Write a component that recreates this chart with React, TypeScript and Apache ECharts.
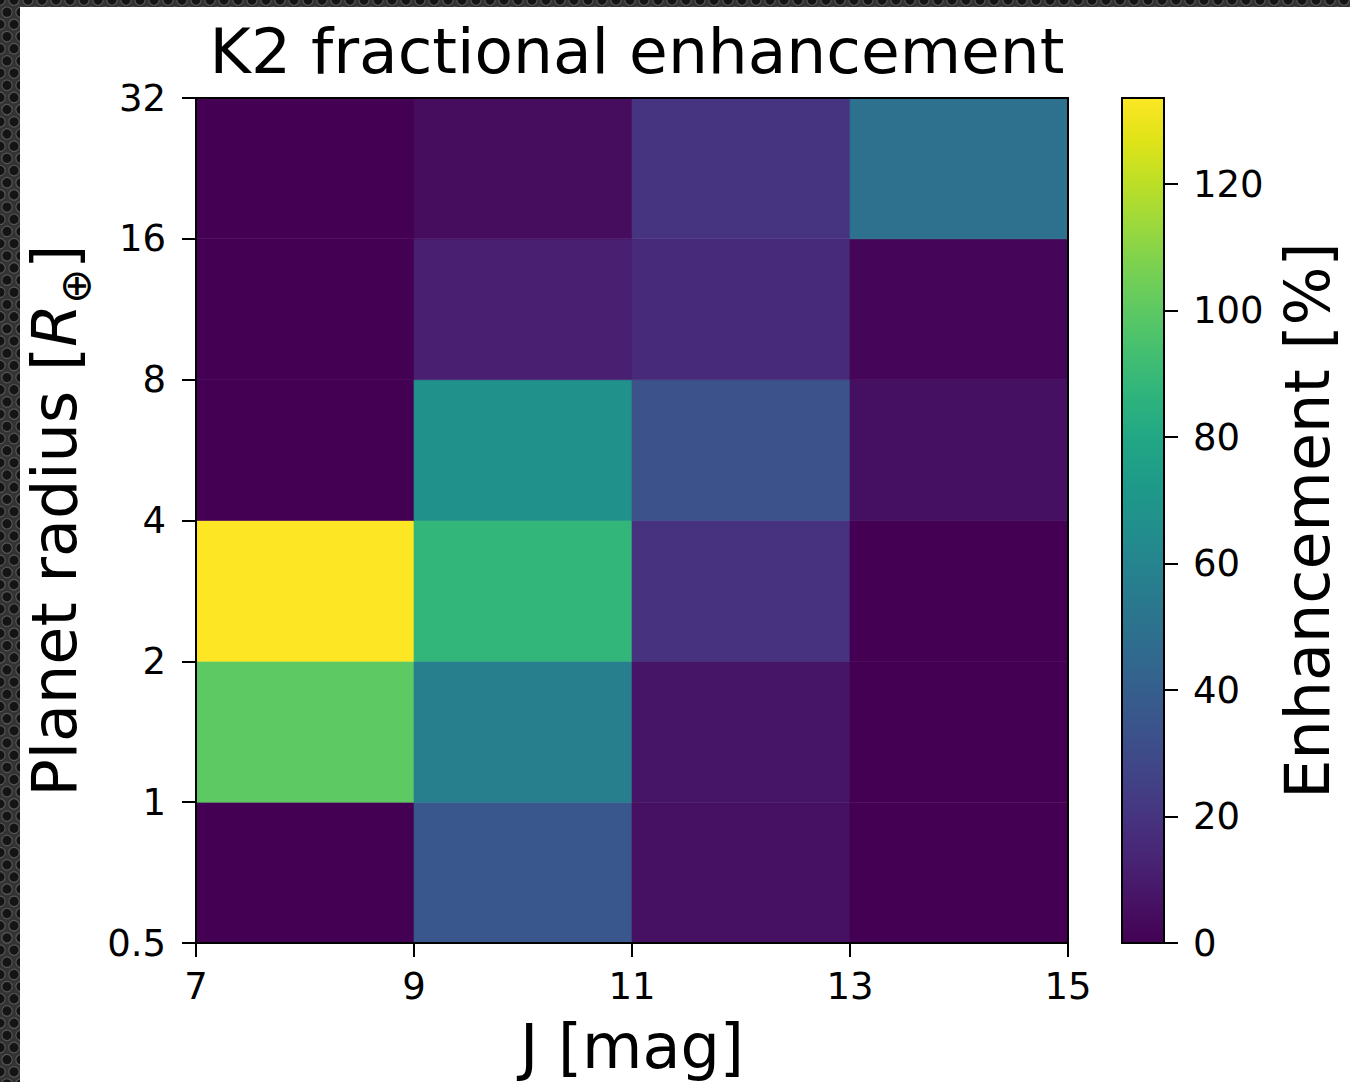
import React, { useEffect, useRef } from "react";
import * as echarts from "echarts";

// ---- data ----
const jEdges = [7, 9, 11, 13, 15];
const radiusEdges = [0.5, 1, 2, 4, 8, 16, 32];
// enhancement [%] per radius bin (bottom to top), columns are J bins 7-9, 9-11, 11-13, 13-15
const enhR0p5to1 = [0, 36, 6, 0];
const enhR1to2 = [100, 57.5, 7.5, 0];
const enhR2to4 = [133.6, 88, 19, 0];
const enhR4to8 = [0, 67, 33.5, 5.5];
const enhR8to16 = [0, 11.5, 16, 2];
const enhR16to32 = [0, 4, 20, 49.5];
const enhancementRows = [enhR0p5to1, enhR1to2, enhR2to4, enhR4to8, enhR8to16, enhR16to32];

const xTicks = [7, 9, 11, 13, 15];
const yTickLabels = ["0.5", "1", "2", "4", "8", "16", "32"];
const colorbarTicks = [0, 20, 40, 60, 80, 100, 120];
const colorMax = 133.6;

const viridis = [
  "#440154", "#471365", "#482475", "#463480", "#414487", "#3b528b", "#355f8d",
  "#2f6c8e", "#2a788e", "#25848e", "#21918c", "#1e9c89", "#22a884", "#2fb47c",
  "#44bf70", "#5ec962", "#7ad151", "#9bd93c", "#bddf26", "#dfe318", "#fde725",
];

const FONT = "DejaVu Sans";

export default function App() {
  const ref = useRef<HTMLDivElement>(null);

  useEffect(() => {
    if (!ref.current) return;
    const chart = echarts.init(ref.current, undefined, { renderer: "svg" });

    const cells: number[][] = [];
    enhancementRows.forEach((row, r) => {
      row.forEach((v, c) => {
        cells.push([
          jEdges[c],
          jEdges[c + 1],
          Math.log2(radiusEdges[r]),
          Math.log2(radiusEdges[r + 1]),
          v,
        ]);
      });
    });

    // decorative perforated background
    const bg: any[] = [];
    const sp = 14;
    for (let row = 0; row * (sp * 0.87) < 1100; row++) {
      const y = row * sp * 0.87;
      const off = row % 2 ? sp / 2 : 0;
      for (let x = off; x < 1360; x += sp) {
        if (x > 30 && y > 16) continue;
        bg.push({
          type: "circle",
          shape: { cx: x, cy: y, r: 5.2 },
          style: { fill: "#141414", stroke: "#555", lineWidth: 1.2 },
          silent: true,
          z: -20,
        });
      }
    }

    const stops = viridis.map((c, i) => ({ offset: i / (viridis.length - 1), color: c }));

    const axisBlack = { lineStyle: { color: "#000", width: 2 } };

    const option: any = {
      animation: false,
      backgroundColor: "#333333",
      textStyle: { fontFamily: FONT },
      title: {
        text: "K2 fractional enhancement",
        left: 632,
        top: 15,
        textAlign: "center",
        textStyle: { fontFamily: FONT, fontSize: 63, fontWeight: "normal", color: "#000" },
      },
      graphic: [
        ...bg,
        {
          type: "rect",
          shape: { x: 20, y: 7, width: 1340, height: 1080 },
          style: { fill: "#ffffff" },
          silent: true,
          z: -10,
        },
      ],
      grid: [
        { left: 196, top: 98, width: 872, height: 845 },
        { left: 1122, top: 98, width: 42, height: 845 },
      ],
      visualMap: {
        type: "continuous",
        show: false,
        min: 0,
        max: colorMax,
        dimension: 4,
        seriesIndex: 0,
        inRange: { color: viridis },
      },
      xAxis: [
        {
          type: "value",
          gridIndex: 0,
          min: 7,
          max: 15,
          interval: 2,
          z: 10,
          axisLine: { show: true, onZero: false, ...axisBlack },
          axisTick: { show: true, length: 14, customValues: xTicks, lineStyle: { color: "#000", width: 2 } },
          axisLabel: { margin: 25, fontSize: 37, color: "#000", fontFamily: FONT, customValues: xTicks },
          splitLine: { show: false },
          name: "J [mag]",
          nameLocation: "middle",
          nameGap: 72,
          nameTextStyle: { fontSize: 62, color: "#000", fontFamily: FONT },
        },
        {
          type: "value",
          gridIndex: 0,
          position: "top",
          min: 7,
          max: 15,
          z: 10,
          axisLine: { show: true, onZero: false, ...axisBlack },
          axisTick: { show: false },
          axisLabel: { show: false },
          splitLine: { show: false },
        },
        {
          type: "value",
          gridIndex: 1,
          min: 0,
          max: 1,
          z: 10,
          axisLine: { show: true, onZero: false, ...axisBlack },
          axisTick: { show: false },
          axisLabel: { show: false },
          splitLine: { show: false },
        },
        {
          type: "value",
          gridIndex: 1,
          position: "top",
          min: 0,
          max: 1,
          z: 10,
          axisLine: { show: true, onZero: false, ...axisBlack },
          axisTick: { show: false },
          axisLabel: { show: false },
          splitLine: { show: false },
        },
      ],
      yAxis: [
        {
          type: "value",
          gridIndex: 0,
          min: -1,
          max: 5,
          interval: 1,
          z: 10,
          axisLine: { show: true, onZero: false, ...axisBlack },
          axisTick: { show: true, length: 14, lineStyle: { color: "#000", width: 2 } },
          axisLabel: {
            margin: 30,
            fontSize: 37,
            color: "#000",
            fontFamily: FONT,
            formatter: (v: number) => yTickLabels[Math.round(v) + 1],
          },
          splitLine: { show: false },
          name: "{a|Planet radius [}{i|R}{s|⊕}{a|]}",
          nameLocation: "middle",
          nameGap: 100,
          nameRotate: 90,
          nameTextStyle: {
            fontSize: 62,
            color: "#000",
            fontFamily: FONT,
            rich: {
              a: { fontSize: 62, lineHeight: 84, fontFamily: FONT, color: "#000" },
              i: { fontSize: 62, lineHeight: 84, fontFamily: FONT, fontStyle: "italic", color: "#000" },
              s: { fontSize: 42, lineHeight: 84, fontFamily: FONT, color: "#000", verticalAlign: "bottom" },
            },
          },
        },
        {
          type: "value",
          gridIndex: 0,
          position: "right",
          min: -1,
          max: 5,
          z: 10,
          axisLine: { show: true, onZero: false, ...axisBlack },
          axisTick: { show: false },
          axisLabel: { show: false },
          splitLine: { show: false },
        },
        {
          type: "value",
          gridIndex: 1,
          position: "left",
          min: 0,
          max: colorMax,
          z: 10,
          axisLine: { show: true, onZero: false, ...axisBlack },
          axisTick: { show: false },
          axisLabel: { show: false },
          splitLine: { show: false },
        },
        {
          type: "value",
          gridIndex: 1,
          position: "right",
          min: 0,
          max: colorMax,
          z: 10,
          axisLine: { show: true, onZero: false, ...axisBlack },
          axisTick: {
            show: true,
            length: 14,
            customValues: colorbarTicks,
            lineStyle: { color: "#000", width: 2 },
          },
          axisLabel: {
            margin: 29,
            fontSize: 37,
            color: "#000",
            fontFamily: FONT,
            customValues: colorbarTicks,
          },
          splitLine: { show: false },
          name: "Enhancement [%]",
          nameLocation: "middle",
          nameGap: 112,
          nameRotate: 90,
          nameTextStyle: { fontSize: 62, color: "#000", fontFamily: FONT },
        },
      ],
      series: [
        {
          type: "custom",
          xAxisIndex: 0,
          yAxisIndex: 0,
          data: cells,
          encode: { x: [0, 1], y: [2, 3] },
          renderItem: (params: any, api: any) => {
            const p0 = api.coord([api.value(0), api.value(3)]);
            const p1 = api.coord([api.value(1), api.value(2)]);
            const color = api.visual("color");
            return {
              type: "rect",
              shape: { x: p0[0], y: p0[1], width: p1[0] - p0[0], height: p1[1] - p0[1] },
              style: { fill: color, stroke: color, lineWidth: 0.6 },
            };
          },
        },
        {
          type: "custom",
          xAxisIndex: 2,
          yAxisIndex: 2,
          data: [[0, 1, 0, colorMax]],
          encode: { x: [0, 1], y: [2, 3] },
          renderItem: (params: any, api: any) => {
            const p0 = api.coord([api.value(0), api.value(3)]);
            const p1 = api.coord([api.value(1), api.value(2)]);
            return {
              type: "rect",
              shape: { x: p0[0], y: p0[1], width: p1[0] - p0[0], height: p1[1] - p0[1] },
              style: { fill: new echarts.graphic.LinearGradient(0, 1, 0, 0, stops) },
            };
          },
        },
      ],
    };

    chart.setOption(option);
    return () => chart.dispose();
  }, []);

  return (
    <div
      ref={ref}
      style={{ position: "fixed", left: 0, top: 0, width: 1350, height: 1082 }}
    />
  );
}
